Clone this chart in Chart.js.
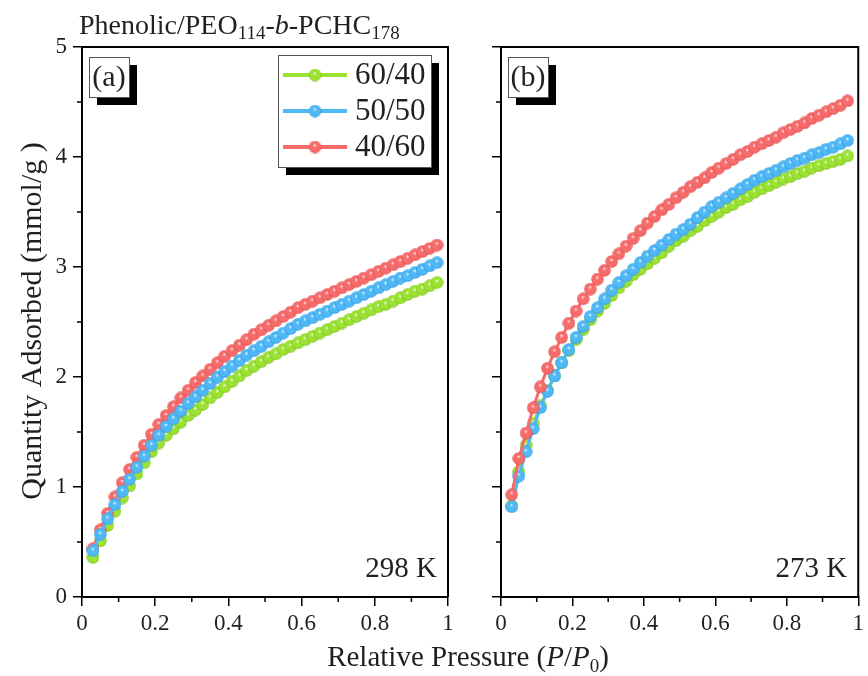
<!DOCTYPE html>
<html>
<head>
<meta charset="utf-8">
<script src="https://cdn.jsdelivr.net/npm/chart.js@4.4.1/dist/chart.umd.min.js"></script>
<style>
  html, body { margin: 0; padding: 0; background: #fff; }
  #wrap { position: relative; width: 868px; height: 676px; }
  #wrap canvas { position: absolute; left: 0; top: 0; }
</style>
</head>
<body>
<div id="wrap">
  <canvas id="chartA" width="868" height="676"></canvas>
  <canvas id="chartB" width="868" height="676"></canvas>
</div>
<script>
// ---------------- DATA ----------------
const seriesNames = ['60/40', '50/50', '40/60'];
const pressure = [0.03, 0.05, 0.07, 0.09, 0.11, 0.13, 0.15, 0.17, 0.19, 0.21, 0.23, 0.25, 0.27, 0.29, 0.31, 0.33,
  0.35, 0.37, 0.39, 0.41, 0.43, 0.45, 0.47, 0.49, 0.51, 0.53, 0.55, 0.57, 0.59, 0.61, 0.63, 0.65,
  0.67, 0.69, 0.71, 0.73, 0.75, 0.77, 0.79, 0.81, 0.83, 0.85, 0.87, 0.89, 0.91, 0.93, 0.95, 0.97];

// 298 K
const green298 = [0.36, 0.51, 0.65, 0.78, 0.90, 1.01, 1.12, 1.22, 1.32, 1.40, 1.47, 1.53, 1.59, 1.65, 1.70, 1.75,
  1.81, 1.86, 1.91, 1.96, 2.01, 2.06, 2.10, 2.14, 2.18, 2.21, 2.25, 2.28, 2.31, 2.34, 2.37, 2.40,
  2.43, 2.46, 2.49, 2.52, 2.55, 2.58, 2.61, 2.64, 2.66, 2.69, 2.72, 2.75, 2.78, 2.80, 2.83, 2.86];
const blue298 = [0.42, 0.57, 0.71, 0.84, 0.96, 1.07, 1.18, 1.28, 1.38, 1.47, 1.55, 1.62, 1.69, 1.76, 1.82, 1.88,
  1.94, 2.00, 2.05, 2.10, 2.15, 2.20, 2.24, 2.28, 2.32, 2.36, 2.40, 2.44, 2.48, 2.51, 2.54, 2.57,
  2.60, 2.63, 2.66, 2.69, 2.72, 2.75, 2.78, 2.81, 2.84, 2.87, 2.90, 2.92, 2.95, 2.98, 3.01, 3.04];
const red298 = [0.44, 0.61, 0.76, 0.91, 1.04, 1.16, 1.27, 1.38, 1.48, 1.57, 1.65, 1.73, 1.81, 1.88, 1.95, 2.01,
  2.07, 2.13, 2.19, 2.24, 2.29, 2.34, 2.39, 2.43, 2.47, 2.51, 2.55, 2.59, 2.63, 2.66, 2.69, 2.72,
  2.75, 2.78, 2.81, 2.84, 2.87, 2.90, 2.93, 2.96, 2.99, 3.02, 3.05, 3.08, 3.11, 3.14, 3.17, 3.20];

// 273 K
const green273 = [0.83, 1.14, 1.38, 1.58, 1.74, 1.88, 2.01, 2.13, 2.24, 2.34, 2.43, 2.52, 2.60, 2.67, 2.74, 2.81,
  2.87, 2.93, 2.98, 3.03, 3.08, 3.13, 3.19, 3.24, 3.28, 3.33, 3.37, 3.42, 3.46, 3.50, 3.54, 3.57,
  3.61, 3.64, 3.68, 3.71, 3.74, 3.77, 3.80, 3.82, 3.85, 3.87, 3.90, 3.92, 3.94, 3.96, 3.98, 4.01];
const blue273 = [0.82, 1.10, 1.32, 1.53, 1.72, 1.87, 2.01, 2.13, 2.25, 2.36, 2.46, 2.55, 2.63, 2.71, 2.79, 2.86,
  2.92, 2.98, 3.04, 3.10, 3.15, 3.20, 3.25, 3.30, 3.34, 3.39, 3.45, 3.50, 3.55, 3.59, 3.63, 3.67,
  3.71, 3.75, 3.79, 3.82, 3.85, 3.88, 3.91, 3.94, 3.97, 3.99, 4.02, 4.04, 4.07, 4.09, 4.12, 4.15];
const red273 = [0.93, 1.26, 1.49, 1.72, 1.91, 2.08, 2.23, 2.36, 2.49, 2.60, 2.71, 2.80, 2.89, 2.97, 3.05, 3.12,
  3.19, 3.26, 3.33, 3.40, 3.46, 3.52, 3.57, 3.63, 3.68, 3.73, 3.77, 3.81, 3.86, 3.90, 3.94, 3.98,
  4.02, 4.05, 4.09, 4.12, 4.15, 4.18, 4.22, 4.25, 4.28, 4.31, 4.35, 4.38, 4.41, 4.44, 4.47, 4.51];

const xMinor = [0.1, 0.3, 0.5, 0.7, 0.9];
const yMinor = [0.5, 1.5, 2.5, 3.5, 4.5];

// ---------------- STYLE ----------------
const colors = ['#9be232', '#4fb8f6', '#f76b6b'];
const shades = ['#6fb81a', '#2a8fd6', '#d84848'];
const INK = '#231f20';
const SERIF = '"Liberation Serif", "DejaVu Serif", serif';

function sphere(color, shade, d) {
  const c = document.createElement('canvas');
  c.width = d; c.height = d;
  const g = c.getContext('2d');
  const r = d / 2;
  const grad = g.createRadialGradient(r * 0.95, r * 0.7, 0, r, r, r);
  grad.addColorStop(0, '#ffffff');
  grad.addColorStop(0.3, color);
  grad.addColorStop(0.8, color);
  grad.addColorStop(1, shade);
  g.fillStyle = grad;
  g.beginPath();
  g.arc(r, r, r - 0.3, 0, Math.PI * 2);
  g.fill();
  return c;
}
const balls = colors.map((c, i) => sphere(c, shades[i], 13));

const pts = (vals) => pressure.map((p, i) => ({ x: p, y: vals[i] }));

function ds(i, vals, order) {
  return {
    label: seriesNames[i],
    data: pts(vals),
    borderColor: colors[i],
    borderWidth: 3,
    pointStyle: balls[i],
    pointRadius: 6.5,
    order,
  };
}

// ---------------- HELPERS ----------------
function drawRuns(ctx, x, y, runs, align) {
  let w = 0;
  runs.forEach((r) => { ctx.font = r.font; w += ctx.measureText(r.text).width; });
  let cx = align === 'center' ? x - w / 2 : x;
  ctx.textBaseline = 'alphabetic';
  ctx.textAlign = 'left';
  runs.forEach((r) => {
    ctx.font = r.font;
    ctx.fillText(r.text, cx, y + (r.dy || 0));
    cx += ctx.measureText(r.text).width;
  });
}

function shadowBox(ctx, x, y, w, h, off) {
  ctx.fillStyle = '#000';
  ctx.fillRect(x + off, y + off, w, h);
  ctx.fillStyle = '#fff';
  ctx.fillRect(x, y, w, h);
  ctx.strokeStyle = '#555';
  ctx.lineWidth = 1;
  ctx.strokeRect(x + 0.5, y + 0.5, w, h);
}

const framePlugin = {
  id: 'frame',
  afterDraw(chart, args, opts) {
    const { ctx, chartArea: a, scales } = chart;
    ctx.save();
    ctx.strokeStyle = '#000';
    ctx.lineWidth = 2;
    ctx.beginPath();
    ctx.moveTo(a.left, a.top); ctx.lineTo(a.right, a.top); ctx.lineTo(a.right, a.bottom);
    ctx.stroke();
    // minor ticks
    ctx.lineWidth = 1.5;
    ctx.beginPath();
    xMinor.forEach((v) => {
      const px = scales.x.getPixelForValue(v);
      ctx.moveTo(px, a.bottom); ctx.lineTo(px, a.bottom + 5);
    });
    yMinor.forEach((v) => {
      const py = scales.y.getPixelForValue(v);
      ctx.moveTo(a.left, py); ctx.lineTo(a.left - 5, py);
    });
    ctx.stroke();

    // panel label
    shadowBox(ctx, a.left + opts.boxDx, 57, 40, 40, 8);
    ctx.fillStyle = INK;
    ctx.font = `30px ${SERIF}`;
    ctx.textAlign = 'center';
    ctx.textBaseline = 'middle';
    ctx.fillText(opts.tag, a.left + opts.boxDx + 20, 78);

    // temperature
    ctx.textAlign = 'right';
    ctx.textBaseline = 'alphabetic';
    ctx.font = `29px ${SERIF}`;
    ctx.fillText(opts.temp, a.right - 11, 577);
    ctx.restore();
  },
};

const legendPlugin = {
  id: 'legendBox',
  afterDraw(chart) {
    const { ctx } = chart;
    ctx.save();
    shadowBox(ctx, 278, 55, 153, 112, 8);
    const rows = [75, 111, 147];
    seriesNames.forEach((name, i) => {
      ctx.strokeStyle = colors[i];
      ctx.lineWidth = 4;
      ctx.beginPath();
      ctx.moveTo(283, rows[i]); ctx.lineTo(347, rows[i]);
      ctx.stroke();
      ctx.drawImage(balls[i], 315 - 6.5, rows[i] - 6.5);
      ctx.fillStyle = INK;
      ctx.font = `31px ${SERIF}`;
      ctx.textAlign = 'left';
      ctx.textBaseline = 'middle';
      ctx.fillText(name, 355, rows[i] + 1);
    });
    ctx.restore();
  },
};

const titlePlugin = {
  id: 'titles',
  afterDraw(chart) {
    const { ctx } = chart;
    ctx.save();
    ctx.fillStyle = INK;
    const f = (s, st = '') => `${st}${s}px ${SERIF}`;
    drawRuns(ctx, 79, 34, [
      { text: 'Phenolic/PEO', font: f(28) },
      { text: '114', font: f(19), dy: 5 },
      { text: '-', font: f(28) },
      { text: 'b', font: f(28, 'italic ') },
      { text: '-PCHC', font: f(28) },
      { text: '178', font: f(19), dy: 5 },
    ]);
    drawRuns(ctx, 468, 666, [
      { text: 'Relative Pressure (', font: f(29) },
      { text: 'P', font: f(29, 'italic ') },
      { text: '/', font: f(29) },
      { text: 'P', font: f(29, 'italic ') },
      { text: '0', font: f(19), dy: 6 },
      { text: ')', font: f(29) },
    ], 'center');
    ctx.translate(41, 321);
    ctx.rotate(-Math.PI / 2);
    drawRuns(ctx, 0, 0, [{ text: 'Quantity Adsorbed (mmol/g )', font: f(30) }], 'center');
    ctx.restore();
  },
};

function options(yWidth, padRight, showY, panel) {
  return {
    responsive: false,
    animation: false,
    devicePixelRatio: 1,
    layout: { padding: { left: 0, top: 47, right: padRight, bottom: 0 } },
    plugins: { legend: { display: false }, tooltip: { enabled: false }, frame: panel },
    scales: {
      x: {
        type: 'linear', min: 0, max: 1,
        afterFit: (s) => { s.height = 79; },
        ticks: {
          stepSize: 0.2, color: INK, padding: 4,
          font: { family: SERIF, size: 23 },
          callback: (v) => (v === 0 || v === 1 ? String(v) : Number(v).toFixed(1)),
        },
        grid: { drawOnChartArea: false, tickLength: 9, color: '#000', lineWidth: 1.5 },
        border: { color: '#000', width: 2 },
      },
      y: {
        type: 'linear', min: 0, max: 5,
        afterFit: (s) => { s.width = yWidth; },
        ticks: {
          stepSize: 1, color: INK, padding: 6,
          font: { family: SERIF, size: 23 },
          callback: (v) => (showY ? String(v) : ''),
        },
        grid: { drawOnChartArea: false, tickLength: 9, color: '#000', lineWidth: 1.5 },
        border: { color: '#000', width: 2 },
      },
    },
  };
}

new Chart(document.getElementById('chartA'), {
  type: 'line',
  data: { datasets: [ds(0, green298, 2), ds(1, blue298, 0), ds(2, red298, 1)] },
  options: options(82, 420, true, { tag: '(a)', temp: '298 K', boxDx: 7 }),
  plugins: [framePlugin, legendPlugin],
});

new Chart(document.getElementById('chartB'), {
  type: 'line',
  data: { datasets: [ds(0, green273, 2), ds(1, blue273, 1), ds(2, red273, 0)] },
  options: options(501, 2, false, { tag: '(b)', temp: '273 K', boxDx: 7 }),
  plugins: [framePlugin, titlePlugin],
});
</script>
</body>
</html>
